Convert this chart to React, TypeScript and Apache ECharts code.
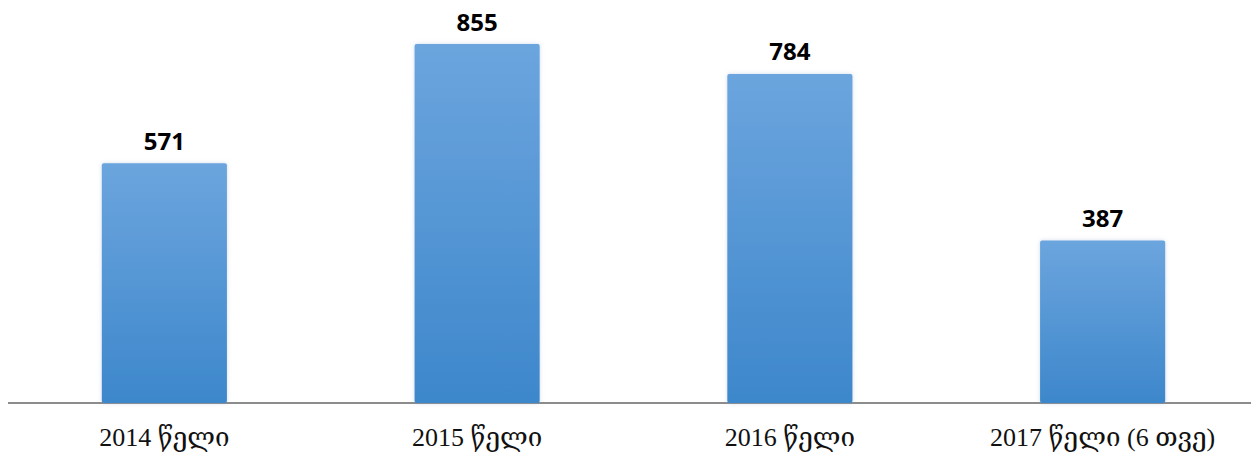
import React, { useEffect, useRef } from "react";
import * as echarts from "echarts";

const categories = ["2014 წელი", "2015 წელი", "2016 წელი", "2017 წელი (6 თვე)"];
const values = [571, 855, 784, 387];

export default function App() {
  const ref = useRef<HTMLDivElement>(null);
  useEffect(() => {
    const chart = echarts.init(ref.current!, null, { renderer: "svg" });
    chart.setOption({
      animation: false,
      grid: { left: 0, right: 0, top: 8, height: 395 },
      xAxis: {
        type: "category",
        data: categories,
        axisLine: { show: true, lineStyle: { color: "#8c8c8c", width: 2 } },
        axisTick: { show: false },
        axisLabel: {
          margin: 21,
          fontSize: 26,
          color: "#111",
          fontFamily: "'Liberation Serif', 'DejaVu Serif', serif",
        },
      },
      yAxis: {
        type: "value",
        min: 0,
        max: 941,
        show: false,
        splitLine: { show: false },
      },
      series: [
        {
          type: "bar",
          data: values,
          barWidth: "40%",
          itemStyle: {
            borderRadius: 2,
            color: new echarts.graphic.LinearGradient(0, 0, 0, 1, [
              { offset: 0, color: "#6ca5de" },
              { offset: 1, color: "#3d87cb" },
            ]),
            shadowColor: "rgba(120,150,200,0.35)",
            shadowBlur: 4,
          },
          label: {
            show: true,
            position: "top",
            distance: 11,
            fontSize: 24,
            fontWeight: "bold",
            color: "#000",
            fontFamily: "'Open Sans', 'Noto Sans', sans-serif",
          },
        },
      ],
    });
    return () => chart.dispose();
  }, []);
  return <div ref={ref} style={{ width: 1251, height: 460, marginTop: -8 }} />;
}
